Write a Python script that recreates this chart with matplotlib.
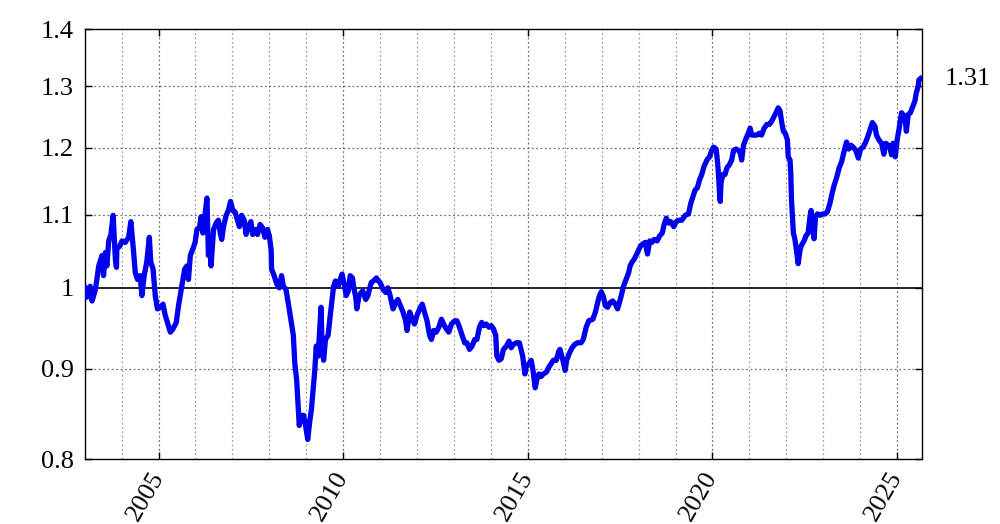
import matplotlib

matplotlib.use("Agg")
import matplotlib.pyplot as plt
import matplotlib.transforms as mtransforms
import numpy as np
from matplotlib.ticker import NullLocator

plt.rcParams["font.family"] = ["Liberation Serif", "DejaVu Serif"]

# 2003 - 2008
years_a = [2003.01, 2003.06, 2003.15, 2003.20, 2003.29, 2003.33, 2003.38, 2003.47, 2003.51, 2003.56,
           2003.60, 2003.65, 2003.71, 2003.77, 2003.83, 2003.86, 2003.87, 2003.95, 2004.01, 2004.10,
           2004.19, 2004.25, 2004.31, 2004.37, 2004.43, 2004.50, 2004.55, 2004.61, 2004.68, 2004.75,
           2004.79, 2004.85, 2004.91, 2004.97, 2005.05, 2005.12, 2005.18, 2005.24, 2005.32, 2005.39,
           2005.48, 2005.54, 2005.60, 2005.66, 2005.71, 2005.77, 2005.81, 2005.86, 2005.93, 2005.99,
           2006.04, 2006.11, 2006.15, 2006.20, 2006.26, 2006.31, 2006.35, 2006.40, 2006.42, 2006.49,
           2006.56, 2006.62, 2006.67, 2006.71, 2006.76, 2006.83, 2006.89, 2006.95, 2007.01, 2007.07,
           2007.14, 2007.19, 2007.25, 2007.32, 2007.37, 2007.43, 2007.50, 2007.55, 2007.61, 2007.68,
           2007.75, 2007.82, 2007.88, 2007.95, 2008.00, 2008.05, 2008.06, 2008.13, 2008.20, 2008.27,
           2008.33, 2008.38, 2008.45, 2008.51, 2008.58, 2008.65, 2008.69, 2008.74, 2008.78, 2008.81]
values_a = [1.000, 0.988, 1.002, 0.983, 0.998, 1.011, 1.029, 1.043, 1.016, 1.047,
            1.029, 1.063, 1.072, 1.099, 1.038, 1.027, 1.052, 1.056, 1.063, 1.061,
            1.068, 1.090, 1.056, 1.020, 1.011, 1.016, 0.990, 1.016, 1.034, 1.068,
            1.034, 1.025, 0.990, 0.973, 0.975, 0.979, 0.965, 0.956, 0.944, 0.948,
            0.956, 0.977, 0.994, 1.011, 1.025, 1.029, 1.011, 1.043, 1.052, 1.061,
            1.079, 1.081, 1.097, 1.074, 1.101, 1.124, 1.043, 1.056, 1.029, 1.079,
            1.088, 1.092, 1.074, 1.065, 1.083, 1.099, 1.106, 1.119, 1.106, 1.104,
            1.092, 1.083, 1.099, 1.092, 1.072, 1.083, 1.090, 1.072, 1.079, 1.072,
            1.086, 1.081, 1.068, 1.079, 1.070, 1.050, 1.025, 1.016, 1.005, 1.000,
            1.016, 1.002, 0.998, 0.981, 0.960, 0.940, 0.906, 0.887, 0.858, 0.836]

# 2009 - 2014
years_b = [2008.86, 2008.93, 2008.98, 2009.04, 2009.09, 2009.14, 2009.18, 2009.23, 2009.27, 2009.32,
           2009.36, 2009.40, 2009.43, 2009.47, 2009.52, 2009.59, 2009.65, 2009.70, 2009.74, 2009.79,
           2009.86, 2009.92, 2009.97, 2010.04, 2010.08, 2010.14, 2010.19, 2010.25, 2010.28, 2010.34,
           2010.37, 2010.43, 2010.49, 2010.53, 2010.61, 2010.67, 2010.71, 2010.76, 2010.82, 2010.90,
           2010.95, 2011.00, 2011.08, 2011.15, 2011.21, 2011.27, 2011.35, 2011.42, 2011.48, 2011.55,
           2011.62, 2011.69, 2011.73, 2011.80, 2011.87, 2011.93, 2012.00, 2012.07, 2012.14, 2012.20,
           2012.27, 2012.34, 2012.39, 2012.45, 2012.52, 2012.59, 2012.66, 2012.72, 2012.79, 2012.86,
           2012.93, 2013.02, 2013.08, 2013.15, 2013.22, 2013.29, 2013.35, 2013.42, 2013.49, 2013.56,
           2013.62, 2013.69, 2013.75, 2013.80, 2013.87, 2013.95, 2014.01, 2014.07, 2014.13, 2014.16,
           2014.22, 2014.28, 2014.34, 2014.42, 2014.49, 2014.55, 2014.61, 2014.69]
values_b = [0.847, 0.847, 0.836, 0.821, 0.839, 0.854, 0.873, 0.898, 0.927, 0.915,
            0.944, 0.975, 0.923, 0.910, 0.935, 0.940, 0.965, 0.985, 1.002, 1.009,
            1.002, 1.011, 1.018, 1.002, 0.990, 0.996, 1.016, 1.013, 1.002, 0.988,
            0.973, 0.990, 0.994, 0.996, 0.985, 0.990, 0.998, 1.007, 1.009, 1.013,
            1.009, 1.007, 0.998, 0.994, 1.000, 0.990, 0.973, 0.981, 0.985, 0.977,
            0.969, 0.958, 0.946, 0.969, 0.960, 0.954, 0.965, 0.973, 0.979, 0.969,
            0.958, 0.940, 0.935, 0.946, 0.944, 0.950, 0.960, 0.954, 0.948, 0.944,
            0.954, 0.958, 0.958, 0.950, 0.940, 0.931, 0.931, 0.923, 0.927, 0.935,
            0.935, 0.950, 0.956, 0.952, 0.954, 0.950, 0.952, 0.948, 0.940, 0.915,
            0.910, 0.912, 0.923, 0.927, 0.933, 0.925, 0.929, 0.931]

# 2015 - mid 2017
years_c = [2014.77, 2014.86, 2014.92, 2014.95, 2015.03, 2015.09, 2015.14, 2015.20, 2015.24, 2015.30,
           2015.36, 2015.42, 2015.50, 2015.57, 2015.63, 2015.69, 2015.77, 2015.84, 2015.87, 2015.95,
           2016.01, 2016.05, 2016.13, 2016.20, 2016.27, 2016.34, 2016.44, 2016.50, 2016.58, 2016.65,
           2016.76, 2016.83, 2016.89, 2016.94, 2016.99, 2017.05, 2017.10, 2017.16, 2017.23, 2017.30,
           2017.37, 2017.43, 2017.48, 2017.53, 2017.59]
values_c = [0.931, 0.915, 0.894, 0.902, 0.906, 0.910, 0.898, 0.878, 0.887, 0.894,
            0.891, 0.894, 0.896, 0.902, 0.906, 0.910, 0.910, 0.921, 0.923, 0.910,
            0.898, 0.910, 0.919, 0.925, 0.929, 0.931, 0.931, 0.935, 0.950, 0.958,
            0.960, 0.969, 0.981, 0.990, 0.995, 0.988, 0.977, 0.975, 0.981, 0.983,
            0.979, 0.973, 0.981, 0.990, 1.002]

# mid 2017 - 2020
years_d = [2017.73, 2017.77, 2017.82, 2017.88, 2017.95, 2018.05, 2018.12, 2018.18, 2018.24, 2018.30,
           2018.36, 2018.42, 2018.50, 2018.57, 2018.64, 2018.69, 2018.75, 2018.81, 2018.87, 2018.95,
           2019.02, 2019.08, 2019.17, 2019.26, 2019.35, 2019.41, 2019.47, 2019.53, 2019.59, 2019.65,
           2019.71, 2019.77, 2019.85, 2019.92, 2019.98, 2020.03]
values_d = [1.020, 1.029, 1.034, 1.038, 1.045, 1.056, 1.059, 1.061, 1.045, 1.063,
            1.061, 1.065, 1.063, 1.070, 1.074, 1.086, 1.095, 1.088, 1.090, 1.083,
            1.090, 1.092, 1.092, 1.099, 1.101, 1.116, 1.126, 1.136, 1.139, 1.151,
            1.159, 1.171, 1.181, 1.186, 1.196, 1.201]

# 2020 - 2025
years_e = [2020.10, 2020.14, 2020.16, 2020.19, 2020.21, 2020.23, 2020.28, 2020.34, 2020.39, 2020.46,
           2020.52, 2020.57, 2020.64, 2020.70, 2020.75, 2020.79, 2020.84, 2020.91, 2020.97, 2021.02,
           2021.06, 2021.13, 2021.20, 2021.27, 2021.33, 2021.40, 2021.47, 2021.54, 2021.60, 2021.67,
           2021.72, 2021.78, 2021.83, 2021.87, 2021.92, 2021.97, 2022.03, 2022.05, 2022.10, 2022.12,
           2022.14, 2022.17, 2022.19, 2022.23, 2022.28, 2022.32, 2022.37, 2022.41, 2022.48, 2022.53,
           2022.59, 2022.64, 2022.67, 2022.70, 2022.75, 2022.79, 2022.84, 2022.91, 2022.98, 2023.05,
           2023.11, 2023.18, 2023.24, 2023.30, 2023.36, 2023.43, 2023.50, 2023.54, 2023.59, 2023.63,
           2023.69, 2023.75, 2023.81, 2023.88, 2023.95, 2024.01, 2024.08, 2024.15, 2024.22, 2024.28,
           2024.33, 2024.40, 2024.44, 2024.51, 2024.58, 2024.64, 2024.69, 2024.76, 2024.80, 2024.85,
           2024.89, 2024.95, 2025.00, 2025.05, 2025.12, 2025.16, 2025.21, 2025.25, 2025.30, 2025.36,
           2025.41, 2025.48, 2025.52, 2025.57, 2025.59, 2025.63]
values_e = [1.198, 1.176, 1.161, 1.131, 1.119, 1.146, 1.159, 1.159, 1.169, 1.174,
            1.181, 1.196, 1.198, 1.196, 1.193, 1.181, 1.204, 1.215, 1.223, 1.231,
            1.220, 1.220, 1.220, 1.223, 1.220, 1.231, 1.237, 1.237, 1.242, 1.250,
            1.256, 1.264, 1.259, 1.242, 1.226, 1.223, 1.212, 1.186, 1.181, 1.161,
            1.121, 1.092, 1.074, 1.066, 1.048, 1.032, 1.050, 1.057, 1.063, 1.070,
            1.074, 1.097, 1.106, 1.088, 1.066, 1.097, 1.101, 1.099, 1.101, 1.101,
            1.104, 1.116, 1.131, 1.144, 1.154, 1.169, 1.179, 1.189, 1.200, 1.209,
            1.198, 1.204, 1.201, 1.196, 1.184, 1.198, 1.201, 1.209, 1.220, 1.231,
            1.240, 1.234, 1.220, 1.212, 1.207, 1.190, 1.207, 1.204, 1.201, 1.189,
            1.207, 1.186, 1.212, 1.229, 1.256, 1.253, 1.250, 1.226, 1.253, 1.256,
            1.264, 1.275, 1.289, 1.300, 1.311, 1.313]

y_ticks = [0.8, 0.9, 1.0, 1.1, 1.2, 1.3, 1.4]
y_tick_labels = ["0.8", "0.9", "1", "1.1", "1.2", "1.3", "1.4"]
x_ticks = [2005, 2010, 2015, 2020, 2025]
x_tick_labels = ["2005", "2010", "2015", "2020", "2025"]

years = np.concatenate([years_a, years_b, years_c, years_d, years_e])
values = np.concatenate([values_a, values_b, values_c, values_d, values_e])

fig = plt.figure(figsize=(10, 5.24), dpi=100)
ax = fig.add_axes([0.0847, 0.1235, 0.8368, 0.8205])
ax.set_yscale("log")
ax.set_xlim(2003.0, 2025.66)
ax.set_ylim(0.8, 1.4)

# yearly dotted grid, darker every five years
dots = (0, (1.5, 2.0))
for t in np.arange(2003, 2026):
    major = t % 5 == 0
    ax.axvline(t, color="#707070" if major else "#a0a0a0", lw=0.9, ls=dots, zorder=1)
for v in [0.9, 1.1, 1.2, 1.3]:
    ax.axhline(v, color="#707070", lw=0.9, ls=dots, zorder=1)
ax.axhline(1.0, color="black", lw=1.2, zorder=2)

ax.plot(years, values, color="#0000ee", lw=3.8, zorder=3)

ax.set_yticks(y_ticks)
ax.set_yticklabels(y_tick_labels)
ax.yaxis.set_minor_locator(NullLocator())
ax.set_xticks(x_ticks)
ax.set_xticklabels(x_tick_labels, rotation=60, ha="right", va="center",
                   rotation_mode="anchor")
ax.xaxis.set_minor_locator(NullLocator())
ax.tick_params(direction="in", top=True, right=True, length=5, width=1,
               labelsize=19, pad=8)
ax.tick_params(axis="x", pad=10)
for s in ax.spines.values():
    s.set_linewidth(1.0)

trans = mtransforms.blended_transform_factory(ax.transAxes, ax.transData)
ax.text(1.028, values[-1], f"{values[-1]:.2f}", transform=trans,
        ha="left", va="center", fontsize=19)

fig.savefig("out.png")
